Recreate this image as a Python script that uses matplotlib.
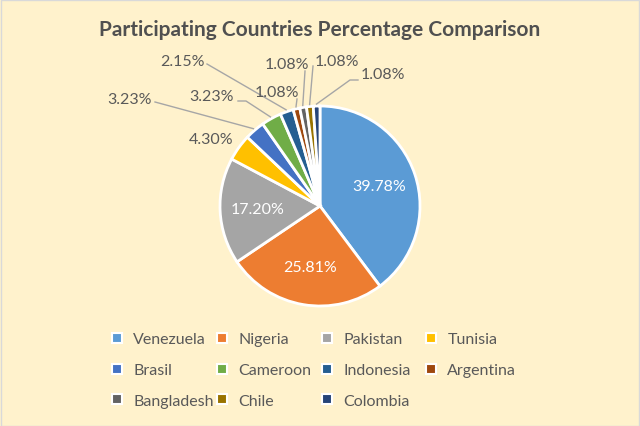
import math
import matplotlib
matplotlib.use("Agg")
import matplotlib.pyplot as plt
from matplotlib.lines import Line2D

plt.rcParams['font.family'] = ['Lato', 'DejaVu Sans']

countries = ['Venezuela', 'Nigeria', 'Pakistan', 'Tunisia', 'Brasil', 'Cameroon',
             'Indonesia', 'Argentina', 'Bangladesh', 'Chile', 'Colombia']
shares = [39.78, 25.81, 17.20, 4.30, 3.23, 3.23, 2.15, 1.08, 1.08, 1.08, 1.08]
colors = ['#5B9BD5', '#ED7D31', '#A5A5A5', '#FFC000', '#4472C4', '#70AD47',
          '#255E91', '#9E480E', '#636363', '#997300', '#264478']
title = 'Participating Countries Percentage Comparison'

bg = '#FFF2CC'
txt = '#595959'

fig = plt.figure(figsize=(6.4, 4.27), dpi=100, facecolor=bg)
ax = fig.add_axes([0, 0, 1, 1])
ax.set_xlim(0, 640)
ax.set_ylim(427, 0)
ax.set_aspect('equal')
ax.axis('off')

cx, cy, R = 320, 207, 100
wedges, _ = ax.pie(shares, colors=colors, center=(cx, cy), radius=R,
                   startangle=-90, counterclock=True,
                   wedgeprops=dict(edgecolor='white', linewidth=2))
ax.set_xlim(0, 640)
ax.set_ylim(427, 0)


def edge_point(w, r):
    a = math.radians((w.theta1 + w.theta2) / 2)
    return cx + r * math.cos(a), cy + r * math.sin(a)


# inside labels (first three slices)
for i in range(3):
    x, y = edge_point(wedges[i], 62)
    ax.text(x, y, f'{shares[i]:.2f}%', color='white', fontsize=11.5,
            ha='center', va='center')

# outside labels: text position and optional elbow (layout only)
outside = {
    3: ((211, 140), None),
    4: ((130, 100), [(155, 103)]),
    5: ((212, 97), [(238, 102), (246, 102)]),
    6: ((182, 62), [(207, 65)]),
    7: ((277, 93), [(297, 100)]),
    8: ((287, 65), [(305, 72)]),
    9: ((337, 62), [(313, 67)]),
    10: ((383, 75), [(358, 81), (350, 81)]),
}
for i, (pos, elbow) in outside.items():
    ax.text(pos[0], pos[1], f'{shares[i]:.2f}%', color=txt, fontsize=11.5,
            ha='center', va='center')
    if elbow:
        ex, ey = edge_point(wedges[i], R + 2)
        xs = [p[0] for p in elbow] + [ex]
        ys = [p[1] for p in elbow] + [ey]
        ax.plot(xs, ys, color='#A6A6A6', lw=1)

ax.text(320, 30, title, color='#505050', fontsize=15, fontweight='bold',
        ha='center', va='center')

# legend: four fixed-width columns, filled row by row
col_x = [111, 216, 321, 425]
for c, x0 in enumerate(col_x):
    idx = list(range(c, len(countries), 4))
    handles = [Line2D([], [], ls='', marker='s', markersize=7,
                      markerfacecolor=colors[i], markeredgecolor='white',
                      markeredgewidth=1.5) for i in idx]
    leg = fig.legend(handles, [countries[i] for i in idx], loc='upper left',
                     bbox_to_anchor=(x0 / 640, 1 - 333 / 427), frameon=False,
                     fontsize=11.5, labelcolor=txt, handlelength=0.8,
                     handletextpad=0.6, labelspacing=1.05, borderpad=0,
                     borderaxespad=0)

fig.patches.append(plt.Rectangle((0.001, 0.001), 0.998, 0.997,
                                 transform=fig.transFigure, fill=False,
                                 edgecolor='#D9D9D9', lw=1))

fig.savefig('out.png', dpi=100, facecolor=bg)
